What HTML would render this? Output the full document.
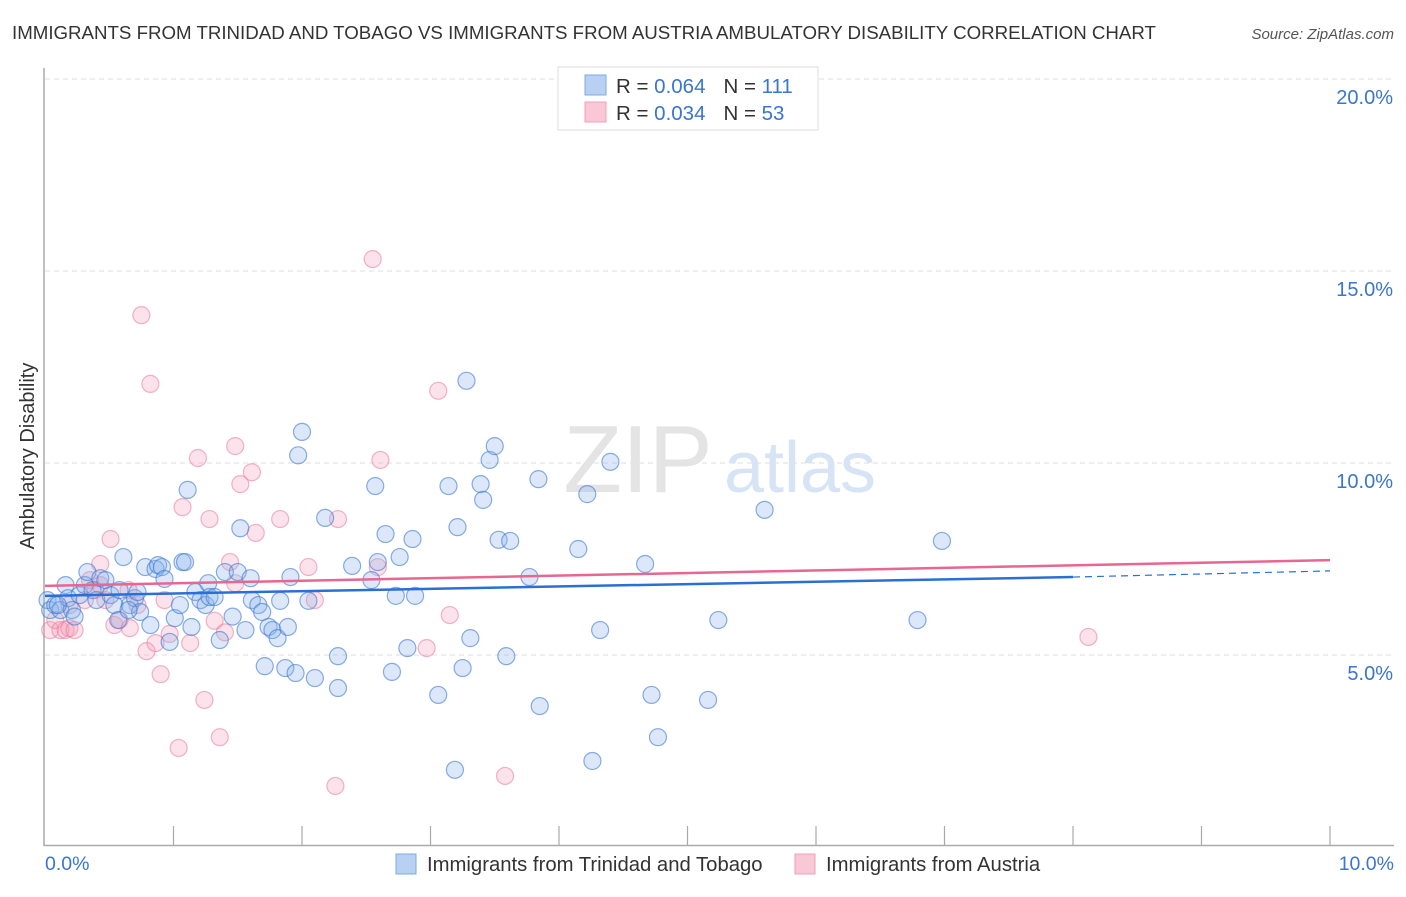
<!DOCTYPE html>
<html><head><meta charset="utf-8"><style>
body{margin:0;background:#fff;font-family:"Liberation Sans",sans-serif}
svg text{font-family:"Liberation Sans",sans-serif}
</style></head><body>
<svg width="1406" height="892" xmlns="http://www.w3.org/2000/svg">
<text x="12" y="39" font-size="18.7" fill="#333">IMMIGRANTS FROM TRINIDAD AND TOBAGO VS IMMIGRANTS FROM AUSTRIA AMBULATORY DISABILITY CORRELATION CHART</text>
<text x="1394" y="39" font-size="15" fill="#555" font-style="italic" text-anchor="end">Source: ZipAtlas.com</text>
<g id="grid"></g>
<g id="axes"></g>
<text x="638" y="492" font-size="96" fill="#e4e4e4" font-family="Liberation Serif" text-anchor="middle">ZIP</text>
<text x="800" y="492" font-size="72" fill="#d6e4f5" text-anchor="middle">atlas</text>
<g id="pts"></g>
<g id="lines"></g>
<text transform="translate(34,456) rotate(-90)" font-size="20" fill="#333" text-anchor="middle">Ambulatory Disability</text>
<text x="45" y="870" font-size="19.5" fill="#3a75d0">0.0%</text>
<text x="1394" y="870" font-size="19.5" fill="#3a75d0" text-anchor="end">10.0%</text>
<g>
<rect x="558" y="67" width="260" height="63" fill="#fff" stroke="#ddd"/>
<rect x="585" y="75" width="21" height="20" fill="#b8d1f3" stroke="#7fa8e3"/>
<rect x="585" y="102" width="21" height="20" fill="#f8c8d6" stroke="#eea0b8"/>
<text x="616" y="93" font-size="20.5" fill="#333">R = <tspan fill="#3a75d0">0.064</tspan><tspan dx="18">N = </tspan><tspan fill="#3a75d0">111</tspan></text>
<text x="616" y="120" font-size="20.5" fill="#333">R = <tspan fill="#3a75d0">0.034</tspan><tspan dx="18">N = </tspan><tspan fill="#3a75d0">53</tspan></text>
</g>
<g>
<rect x="396" y="854" width="20" height="20" fill="#b8d1f3" stroke="#7fa8e3"/>
<text x="427" y="871" font-size="20.3" fill="#333">Immigrants from Trinidad and Tobago</text>
<rect x="795" y="854" width="20" height="20" fill="#f8c8d6" stroke="#eea0b8"/>
<text x="826" y="871" font-size="20.3" fill="#333">Immigrants from Austria</text>
</g>
</svg>
<script>
const yTicks=[5,10,15,20];
const yTickLabels=["5.0%","10.0%","15.0%","20.0%"];
const blueX=[0.02,0.04,0.08,0.12,0.16,0.18,0.21,0.27,0.31,0.33,0.37,0.40,0.43,0.47,0.51,0.54,0.57,0.58,0.61,0.66,0.70,0.72,0.74,0.78,0.82,0.86,0.88,0.91,0.93,0.97,1.01,1.05,1.07,1.09,1.11,1.14,1.17,1.21,1.25,1.27,1.28,1.32,1.36,1.40,1.46,1.50,1.52,1.56,1.60,1.61,1.66,1.69,1.71,1.74,1.77,1.81,1.83,1.87,1.89,1.91,1.95,1.97,2.00,2.05,2.10,2.18,2.28,2.28,2.39,2.54,2.57,2.59,2.65,2.70,2.73,2.76,2.82,2.86,2.88,3.06,3.14,3.19,3.21,3.25,3.28,3.31,3.39,3.41,3.46,3.50,3.53,3.59,3.62,3.77,3.84,3.85,4.15,4.22,4.26,4.32,4.40,4.67,4.72,4.77,5.16,5.24,5.60,6.79,6.98,0.10,0.23,0.65];
const blueY=[6.43,6.17,6.30,6.17,6.82,6.48,6.17,6.56,6.82,7.16,6.69,6.43,7.00,6.95,6.56,6.30,5.91,6.69,7.55,6.30,6.48,6.64,6.12,7.29,5.78,7.24,7.34,7.29,6.98,5.34,5.96,6.30,7.42,7.42,9.30,5.73,6.64,6.43,6.30,6.87,6.51,6.51,5.39,7.16,6.00,7.16,8.30,5.65,7.00,6.43,6.30,6.12,4.71,5.73,5.65,5.44,6.41,4.66,5.73,7.03,4.53,10.20,10.81,6.41,4.40,8.57,4.97,4.14,7.32,6.95,9.40,7.42,8.15,4.56,6.54,7.55,5.18,8.02,6.54,3.96,9.40,2.01,8.33,4.66,12.14,5.44,9.45,9.04,10.08,10.44,8.00,4.97,7.97,7.03,9.58,3.67,7.76,9.19,2.24,5.65,10.03,7.37,3.96,2.86,3.83,5.91,8.78,5.91,7.97,6.30,6.00,6.17];
const pinkX=[0.04,0.08,0.12,0.16,0.19,0.23,0.31,0.35,0.39,0.43,0.47,0.51,0.54,0.58,0.65,0.66,0.72,0.75,0.79,0.82,0.86,0.90,0.93,0.97,1.04,1.07,1.13,1.19,1.24,1.28,1.32,1.36,1.40,1.44,1.48,1.52,1.61,1.64,1.83,2.05,2.10,2.26,2.28,2.55,2.59,2.61,2.97,3.06,3.15,3.58,8.12,0.43,0.19,1.48];
const pinkY=[5.65,5.91,5.65,5.65,5.70,5.65,6.43,6.95,6.69,7.37,6.43,8.02,5.78,5.91,6.69,5.70,6.30,13.85,5.10,12.06,5.31,4.50,6.43,5.55,2.58,8.85,5.31,10.13,3.83,8.54,5.89,2.86,5.59,7.42,10.44,9.45,9.76,8.18,8.54,7.29,6.43,1.59,8.54,15.31,7.29,10.08,5.18,11.88,6.04,1.85,5.47,6.82,6.30,6.87];
const trendX=[0,8,10];
const blueTrend=[6.54,7.03,7.19];
const pinkTrend=[6.80,7.49,7.47];
const X=v=>45+v*128.5, Y=v=>847-v*38.4;
const NS="http://www.w3.org/2000/svg";
function mk(tag,attrs,parent){const e=document.createElementNS(NS,tag);for(const k in attrs)e.setAttribute(k,attrs[k]);parent.appendChild(e);return e;}
const grid=document.getElementById('grid');
yTicks.forEach((t,i)=>{
 const l=mk('line',{x1:45,x2:1394,y1:Y(t),y2:Y(t),stroke:'#ddd','stroke-dasharray':'5,4'},grid);
 
 
 const tx=mk('text',{x:1393,y:Y(t)+25,'font-size':20,fill:'#3a75d0','text-anchor':'end'},grid);
 tx.textContent=yTickLabels[i];
 
 
});
const ax=document.getElementById('axes');
mk('line',{x1:44,x2:44,y1:68,y2:846,stroke:'#aaa','stroke-width':1.5},ax);
mk('line',{x1:44,x2:1394,y1:845.5,y2:845.5,stroke:'#aaa','stroke-width':1.5},ax);
for(let i=1;i<=10;i++){const t=mk('line',{x1:X(i),x2:X(i),y1:826,y2:845,stroke:'#aaa','stroke-width':1.2},ax);
 
 }
const pts=document.getElementById('pts');
pinkX.forEach((x,i)=>{const c=mk('circle',{cx:X(x),cy:Y(pinkY[i]),r:8.5,fill:'rgba(244,160,187,0.3)',stroke:'rgba(232,120,155,0.55)','stroke-width':1.2},pts);
 
 });
blueX.forEach((x,i)=>{const c=mk('circle',{cx:X(x),cy:Y(blueY[i]),r:8.5,fill:'rgba(140,180,235,0.3)',stroke:'rgba(60,120,210,0.6)','stroke-width':1.2},pts);
 
 });
const ln=document.getElementById('lines');
let a=mk('line',{x1:X(trendX[0]),y1:Y(blueTrend[0]),x2:X(trendX[1]),y2:Y(blueTrend[1]),stroke:'#2a6fd6','stroke-width':2.5},ln);


a=mk('line',{x1:X(trendX[1]),y1:Y(blueTrend[1]),x2:X(trendX[2]),y2:Y(blueTrend[2]),stroke:'#2a6fd6','stroke-width':1.2,'stroke-dasharray':'7,5'},ln);


a=mk('line',{x1:X(trendX[0]),y1:Y(pinkTrend[0]),x2:X(trendX[2]),y2:Y(pinkTrend[2]),stroke:'#e8668f','stroke-width':2.5},ln);


</script>
</body></html>
